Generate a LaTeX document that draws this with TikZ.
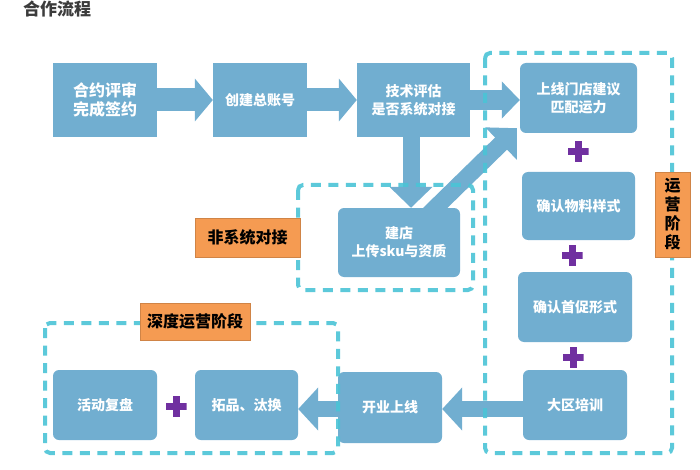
\documentclass[tikz,border=0pt]{standalone}
\usepackage{fontspec}
\setmainfont{Noto Sans CJK SC}
\usetikzlibrary{arrows.meta,calc}
\definecolor{boxblue}{RGB}{113,174,208}
\definecolor{dashcyan}{RGB}{75,196,214}
\definecolor{tagorange}{RGB}{245,155,82}
\definecolor{pluspurple}{RGB}{112,48,160}
\definecolor{titlegray}{RGB}{60,60,60}

\begin{document}
\begin{tikzpicture}[x=1pt, y=-1pt,
	box/.style={fill=boxblue, text=white, font=\bfseries\fontsize{14}{18}\selectfont, align=center, inner sep=0pt},
	roundbox/.style={box, rounded corners=6pt},
	tag/.style={fill=tagorange, draw=tagorange!85!black, line width=0.6pt, text=black, font=\bfseries\fontsize{16}{19}\selectfont, align=center, inner sep=0pt},
	frame/.style={draw=dashcyan, line width=4pt, dash pattern=on 10pt off 7.5pt, rounded corners=5pt, draw opacity=0.9},
	flow/.style={draw=boxblue, line width=23pt, -{Triangle[width=42pt, length=18pt]}},
	plus/.style={minimum size=21pt, inner sep=0pt, path picture={
		\fill[pluspurple] ($(path picture bounding box.center)+(-10.5,-3.5)$) rectangle ($(path picture bounding box.center)+(10.5,3.5)$);
		\fill[pluspurple] ($(path picture bounding box.center)+(-3.5,-10.5)$) rectangle ($(path picture bounding box.center)+(3.5,10.5)$);}}]
	\useasboundingbox (0,0) rectangle (700,470);
	\fill[white] (0,0) rectangle (700,470);
	\node[anchor=north, inner sep=0pt, text=titlegray, font=\bfseries\fontsize{17}{17}\selectfont] (title) at (57,0.5) {合作流程};
	\node[box, minimum width=104pt, minimum height=74pt, font=\bfseries\fontsize{16}{19}\selectfont] (sign) at (105,100) {合约评审\\完成签约};
	\node[box, minimum width=94pt, minimum height=74pt] (account) at (260,100) {创建总账号};
	\node[box, minimum width=113pt, minimum height=74pt] (assess) at (413.5,100) {技术评估\\是否系统对接};
	\node[roundbox, minimum width=117pt, minimum height=70pt] (propose) at (578.5,98) {上线门店建议\\匹配运力};
	\node[roundbox, minimum width=122pt, minimum height=69pt] (store) at (399,242.5) {建店\\上传sku与资质};
	\node[roundbox, minimum width=113pt, minimum height=68pt] (material) at (578.5,206) {确认物料样式};
	\node[roundbox, minimum width=114pt, minimum height=70pt] (promo) at (575,307) {确认首促形式};
	\node[roundbox, minimum width=104pt, minimum height=70pt] (train) at (575,405) {大区培训};
	\node[roundbox, minimum width=104pt, minimum height=71pt] (launch) at (390,407.5) {开业上线};
	\node[roundbox, minimum width=103pt, minimum height=70pt] (expand) at (246.5,405) {拓品、汰换};
	\node[roundbox, minimum width=104pt, minimum height=70pt] (review) at (105,405) {活动复盘};
	\draw[flow] (sign) -- (account);
	\draw[flow] (account) -- (assess);
	\draw[flow, line width=20pt, -{Triangle[width=36pt, length=18pt]}] (assess.east) -- (assess.east -| propose.west);
	\draw[flow, line width=17pt, -{Triangle[width=42pt, length=21pt]}] ([xshift=-2.5pt]assess.south) -- ([xshift=-2.5pt]assess.south |- store.north);
	\draw[flow, line width=17pt, -{Triangle[width=44pt, length=22pt]}] ($(store.north east)+(-32,7)$) -- ($(propose.south west)+(-3,-5)$);
	\draw[flow, line width=16pt, -{Triangle[width=42pt, length=20pt]}] ([yshift=-4pt]train.west) -- ([yshift=-4pt]train.west -| launch.east);
	\draw[flow, line width=16pt, -{Triangle[width=42pt, length=20pt]}] ([yshift=-1.5pt]launch.west) -- ([yshift=-1.5pt]launch.west -| expand.east);
	\draw[frame] (485,53) rectangle (672,453);
	\draw[frame] (298,185) rectangle (473,290);
	\draw[frame] (45,323) rectangle (338,453);
	\node[tag, minimum width=105pt, minimum height=39pt] (manual) at (247.5,237.5) {非系统对接};
	\node[tag, minimum width=35pt, minimum height=85pt] (opstage) at (672.5,214.5) {运\\营\\阶\\段};
	\node[tag, minimum width=110pt, minimum height=37pt] (deepstage) at (195,321.5) {深度运营阶段};
	\node[plus] (plusa) at (578,152) {};
	\node[plus] (plusb) at (572,255) {};
	\node[plus] (plusc) at (573,357) {};
	\node[plus] (plusd) at (176,406) {};
\end{tikzpicture}
\end{document}
